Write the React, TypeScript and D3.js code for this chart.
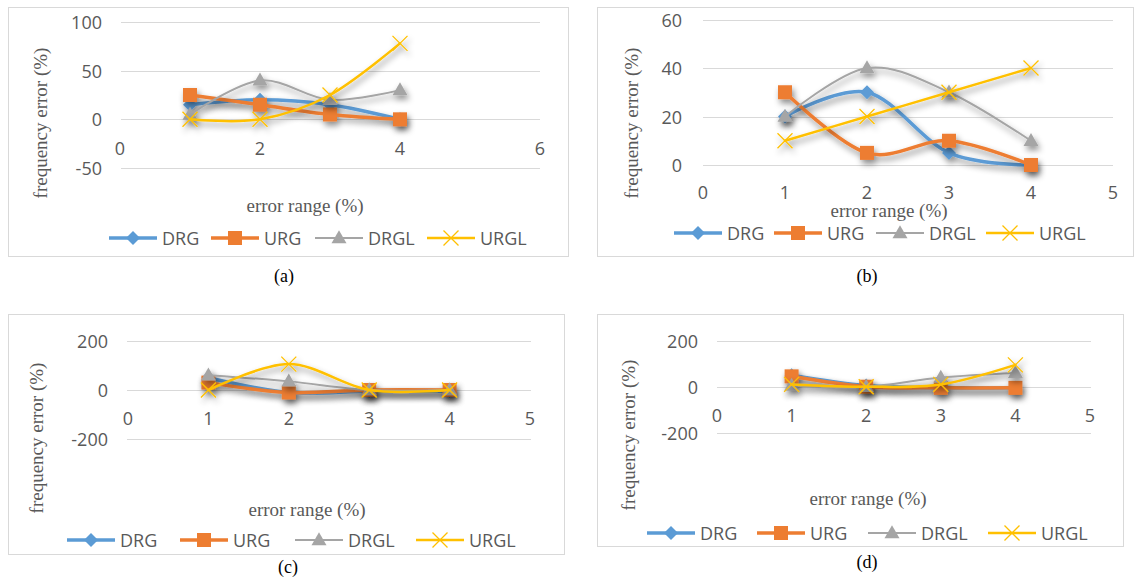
import React from "react";
import * as d3 from "d3";

// ---------- data ----------
const xValues = [1, 2, 3, 4];
const seriesNames = ["DRG", "URG", "DRGL", "URGL"];

const drgA = [15, 20, 15, 0];
const urgA = [25, 15, 5, 0];
const drglA = [5, 40, 20, 30];
const urglA = [0, 0, 25, 78];

const drgB = [20, 30, 5, 0];
const urgB = [30, 5, 10, 0];
const drglB = [20, 40, 30, 10];
const urglB = [10, 20, 30, 40];

const drgC = [50, -10, -5, -5];
const urgC = [30, -10, 0, 0];
const drglC = [60, 35, 0, 0];
const urglC = [0, 105, 0, 0];

const drgD = [50, 5, -5, -5];
const urgD = [45, 0, -5, -5];
const drglD = [5, 0, 40, 60];
const urglD = [10, 0, 10, 95];

const xTicksA = [0, 2, 4, 6];
const yTicksA = [-50, 0, 50, 100];
const xTicksB = [0, 1, 2, 3, 4, 5];
const yTicksB = [0, 20, 40, 60];
const xTicksCD = [0, 1, 2, 3, 4, 5];
const yTicksCD = [-200, 0, 200];

const captions = ["(a)", "(b)", "(c)", "(d)"];
const xTitle = "error range (%)";
const yTitle = "frequency error (%)";

// ---------- styles ----------
const colors = ["#5B9BD5", "#ED7D31", "#A5A5A5", "#FFC000"];
const widths = [3.5, 3.5, 2, 2.5];
const markers = ["diamond", "square", "triangle", "cross"];
const SANS = "'Open Sans', 'Liberation Sans', sans-serif";
const SERIF = "'Liberation Serif', 'DejaVu Serif', serif";
const TXT = "#595959";
const GRID = "#D9D9D9";

// ---------- layout ----------
const layouts = [
  {
    series: [drgA, urgA, drglA, urglA], xTicks: xTicksA, yTicks: yTicksA,
    box: [8, 7, 568, 256], xRange: [120, 540], grid: [121, 540], yRange: [168, 22],
    yLabelX: 102, xLabelY: 148, yTitlePos: [40, 123], xTitlePos: [305, 205],
    legendY: 238, legendX: [109, 211, 315, 427], caption: [284, 276],
  },
  {
    series: [drgB, urgB, drglB, urglB], xTicks: xTicksB, yTicks: yTicksB,
    box: [597, 7, 1133, 256], xRange: [703, 1113], grid: [703, 1113], yRange: [165, 19.5],
    yLabelX: 682, xLabelY: 192, yTitlePos: [631, 123], xTitlePos: [889, 210],
    legendY: 233, legendX: [674, 774, 876, 986], caption: [867, 276],
  },
  {
    series: [drgC, urgC, drglC, urglC], xTicks: xTicksCD, yTicks: yTicksCD,
    box: [8, 314, 564, 554], xRange: [128, 530], grid: [127, 531], yRange: [439.3, 340.7],
    yLabelX: 108, xLabelY: 418, yTitlePos: [36, 438], xTitlePos: [307, 509],
    legendY: 540, legendX: [67, 180, 295, 416], caption: [288, 567],
  },
  {
    series: [drgD, urgD, drglD, urglD], xTicks: xTicksCD, yTicks: yTicksCD,
    box: [597, 314, 1123, 546], xRange: [717, 1090], grid: [717, 1091], yRange: [432.7, 340.7],
    yLabelX: 698, xLabelY: 415, yTitlePos: [628, 435], xTitlePos: [868, 498],
    legendY: 533, legendX: [647, 757, 868, 988], caption: [867, 562],
  },
];

function Marker({ kind, x, y, color }: { kind: string; x: number; y: number; color: string }) {
  if (kind === "diamond") {
    const r = 7;
    return <path d={`M${x},${y - r}L${x + r},${y}L${x},${y + r}L${x - r},${y}Z`} fill={color} />;
  }
  if (kind === "square") {
    const s = 14;
    return <rect x={x - s / 2} y={y - s / 2} width={s} height={s} fill={color} />;
  }
  if (kind === "triangle") {
    const w = 15, h = 13;
    return <path d={`M${x},${y - h * 0.6}L${x + w / 2},${y + h * 0.4}L${x - w / 2},${y + h * 0.4}Z`} fill={color} />;
  }
  const r = 7.5;
  return (
    <path d={`M${x - r},${y - r}L${x + r},${y + r}M${x - r},${y + r}L${x + r},${y - r}`} stroke={color} strokeWidth={1.3} fill="none" />
  );
}

function Panel({ cfg, idx }: { cfg: any; idx: number }) {
  const x = d3.scaleLinear().domain([cfg.xTicks[0], cfg.xTicks[cfg.xTicks.length - 1]]).range(cfg.xRange);
  const y = d3.scaleLinear().domain([cfg.yTicks[0], cfg.yTicks[cfg.yTicks.length - 1]]).range(cfg.yRange);
  const line = d3
    .line<number>()
    .x((_, i) => x(xValues[i]))
    .y((d) => y(d))
    .curve(d3.curveCardinal.tension(0));
  const [bx0, by0, bx1, by1] = cfg.box;
  return (
    <g>
      <rect x={bx0 + 0.5} y={by0 + 0.5} width={bx1 - bx0} height={by1 - by0} fill="#fff" stroke={GRID} strokeWidth={1} />
      {cfg.yTicks.map((t: number) => (
        <g key={t}>
          <line x1={cfg.grid[0]} x2={cfg.grid[1]} y1={Math.round(y(t)) + 0.5} y2={Math.round(y(t)) + 0.5} stroke={GRID} strokeWidth={1} />
          <text x={cfg.yLabelX} y={y(t)} textAnchor="end" dominantBaseline="central" fontFamily={SANS} fontSize={18} fill={TXT}>
            {t}
          </text>
        </g>
      ))}
      {cfg.xTicks.map((t: number) => (
        <text key={t} x={x(t)} y={cfg.xLabelY} textAnchor="middle" dominantBaseline="central" fontFamily={SANS} fontSize={18} fill={TXT}>
          {t}
        </text>
      ))}
      <text
        transform={`translate(${cfg.yTitlePos[0]},${cfg.yTitlePos[1]}) rotate(-90)`}
        textAnchor="middle"
        dominantBaseline="central"
        fontFamily={SERIF}
        fontSize={19}
        fill={TXT}
      >
        {yTitle}
      </text>
      <text x={cfg.xTitlePos[0]} y={cfg.xTitlePos[1]} textAnchor="middle" dominantBaseline="central" fontFamily={SERIF} fontSize={19} fill={TXT}>
        {xTitle}
      </text>
      {cfg.series.map((vals: number[], si: number) => (
        <g key={si} filter="url(#shadow)">
          <path d={line(vals) || ""} fill="none" stroke={colors[si]} strokeWidth={widths[si]} strokeLinecap="round" />
          {vals.map((v, i) => (
            <Marker key={i} kind={markers[si]} x={x(xValues[i])} y={y(v)} color={colors[si]} />
          ))}
        </g>
      ))}
      {seriesNames.map((name, si) => {
        const lx = cfg.legendX[si];
        return (
          <g key={name}>
            <line x1={lx} x2={lx + 48} y1={cfg.legendY} y2={cfg.legendY} stroke={colors[si]} strokeWidth={widths[si]} />
            <Marker kind={markers[si]} x={lx + 24} y={cfg.legendY} color={colors[si]} />
            <text x={lx + 53} y={cfg.legendY} dominantBaseline="central" fontFamily={SANS} fontSize={18} fill={TXT}>
              {name}
            </text>
          </g>
        );
      })}
      <text x={cfg.caption[0]} y={cfg.caption[1]} textAnchor="middle" dominantBaseline="central" fontFamily={SERIF} fontSize={18} fill="#000">
        {captions[idx]}
      </text>
    </g>
  );
}

export default function App() {
  return (
    <svg width={1135} height={577} style={{ position: "absolute", left: 0, top: 0, background: "#fff" }}>
      <defs>
        <filter id="shadow" x="-20%" y="-50%" width="140%" height="200%">
          <feDropShadow dx={2} dy={4} stdDeviation={3} floodColor="#000" floodOpacity={0.45} />
        </filter>
      </defs>
      <rect width={1135} height={577} fill="#fff" />
      {layouts.map((cfg, i) => (
        <Panel key={i} cfg={cfg} idx={i} />
      ))}
    </svg>
  );
}
